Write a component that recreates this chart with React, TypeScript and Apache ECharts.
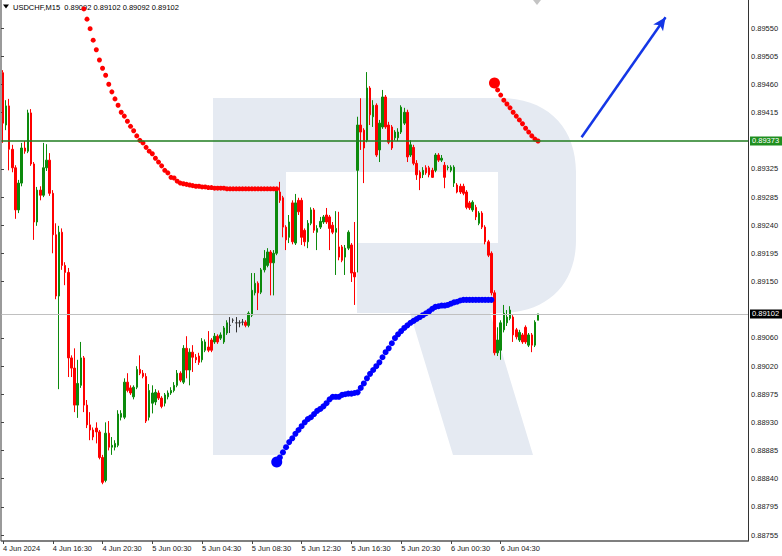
import React, { useEffect, useRef } from "react";
import * as echarts from "echarts";

// ---------- data ----------
const symbolLabel = "USDCHF,M15";
const slotCount = 240; // bar slots shown on the time axis (chart shifted left)
const xTickStep = 16; // one time label every 16 M15 bars (4 hours)
const xTickLabels = [
  "4 Jun 2024", "4 Jun 16:30", "4 Jun 20:30", "5 Jun 00:30", "5 Jun 04:30",
  "5 Jun 08:30", "5 Jun 12:30", "5 Jun 16:30", "5 Jun 20:30", "6 Jun 00:30", "6 Jun 04:30",
];
const yTickLabels = [
  "0.88755", "0.88795", "0.88840", "0.88885", "0.88930", "0.88975", "0.89020", "0.89060",
  "0.89105", "0.89150", "0.89195", "0.89240", "0.89285", "0.89325", "0.89370", "0.89415",
  "0.89460", "0.89505", "0.89550",
];
const yHiddenTicks = ["0.89105", "0.89370"];
const priceMin = 0.88746;
const priceMax = 0.89594;
const resistanceLevel = 0.89373;
const bidLevel = 0.89102;

const opens = [
  0.89480, 0.89398, 0.89428, 0.89360, 0.89331, 0.89265, 0.89307, 0.89362, 0.89357, 0.89417,
  0.89337, 0.89246, 0.89296, 0.89288, 0.89331, 0.89343, 0.89291, 0.89226, 0.89130, 0.89230,
  0.89178, 0.89167, 0.89033, 0.89017, 0.88959, 0.88990, 0.89033, 0.88959, 0.88928, 0.88920,
  0.88923, 0.88917, 0.88877, 0.88841, 0.88915, 0.88893, 0.88893, 0.88896, 0.88940, 0.88940,
  0.88995, 0.88986, 0.88972, 0.88987, 0.89015, 0.89009, 0.89004, 0.88940, 0.88962, 0.88964,
  0.88978, 0.88970, 0.88962, 0.88972, 0.88978, 0.88982, 0.88990, 0.89009, 0.88995, 0.89048,
  0.89014, 0.89042, 0.89034, 0.89036, 0.89030, 0.89045, 0.89050, 0.89061, 0.89058, 0.89067,
  0.89064, 0.89058, 0.89072, 0.89084, 0.89092, 0.89088, 0.89088, 0.89089, 0.89089, 0.89084,
  0.89100, 0.89135, 0.89150, 0.89136, 0.89171, 0.89178, 0.89199, 0.89182, 0.89197, 0.89293,
  0.89284, 0.89238, 0.89222, 0.89276, 0.89213, 0.89280, 0.89280, 0.89233, 0.89215, 0.89244,
  0.89265, 0.89230, 0.89238, 0.89246, 0.89257, 0.89254, 0.89241, 0.89230, 0.89207, 0.89207,
  0.89191, 0.89205, 0.89210, 0.89167, 0.89327, 0.89398, 0.89390, 0.89374, 0.89456, 0.89411,
  0.89429, 0.89359, 0.89395, 0.89442, 0.89398, 0.89395, 0.89378, 0.89378, 0.89387, 0.89401,
  0.89418, 0.89351, 0.89363, 0.89338, 0.89324, 0.89320, 0.89331, 0.89331, 0.89327, 0.89327,
  0.89351, 0.89343, 0.89335, 0.89331, 0.89327, 0.89307, 0.89304, 0.89302, 0.89302, 0.89293,
  0.89276, 0.89265, 0.89269, 0.89244, 0.89260, 0.89238, 0.89215, 0.89197, 0.89135, 0.89041,
  0.89045, 0.89077, 0.89088, 0.89095, 0.89097, 0.89077, 0.89061, 0.89069, 0.89081, 0.89053,
  0.89069, 0.89053, 0.89092,
];
const closes = [
  0.89401, 0.89428, 0.89360, 0.89331, 0.89265, 0.89307, 0.89362, 0.89357, 0.89417, 0.89337,
  0.89246, 0.89296, 0.89288, 0.89331, 0.89343, 0.89291, 0.89226, 0.89130, 0.89230, 0.89178,
  0.89167, 0.89033, 0.89017, 0.88959, 0.88993, 0.89033, 0.88959, 0.88928, 0.88920, 0.88909,
  0.88917, 0.88877, 0.88838, 0.88915, 0.88893, 0.88896, 0.88899, 0.88945, 0.88946, 0.88995,
  0.88982, 0.88978, 0.88987, 0.89015, 0.89009, 0.89004, 0.88934, 0.88982, 0.88978, 0.88979,
  0.88970, 0.88957, 0.88975, 0.88978, 0.88982, 0.88990, 0.89009, 0.88998, 0.89048, 0.89014,
  0.89042, 0.89034, 0.89030, 0.89026, 0.89059, 0.89058, 0.89045, 0.89045, 0.89067, 0.89058,
  0.89069, 0.89080, 0.89088, 0.89084, 0.89092, 0.89088, 0.89088, 0.89089, 0.89084, 0.89103,
  0.89139, 0.89150, 0.89135, 0.89171, 0.89189, 0.89199, 0.89182, 0.89197, 0.89296, 0.89280,
  0.89238, 0.89218, 0.89246, 0.89215, 0.89276, 0.89262, 0.89222, 0.89215, 0.89244, 0.89265,
  0.89233, 0.89236, 0.89247, 0.89254, 0.89246, 0.89236, 0.89230, 0.89236, 0.89191, 0.89186,
  0.89205, 0.89230, 0.89166, 0.89160, 0.89398, 0.89387, 0.89362, 0.89456, 0.89414, 0.89429,
  0.89351, 0.89401, 0.89442, 0.89395, 0.89371, 0.89362, 0.89387, 0.89387, 0.89426, 0.89418,
  0.89348, 0.89367, 0.89338, 0.89320, 0.89315, 0.89327, 0.89323, 0.89320, 0.89316, 0.89351,
  0.89343, 0.89346, 0.89316, 0.89332, 0.89332, 0.89332, 0.89293, 0.89293, 0.89291, 0.89269,
  0.89268, 0.89277, 0.89254, 0.89260, 0.89238, 0.89215, 0.89194, 0.89135, 0.89041, 0.89061,
  0.89088, 0.89103, 0.89097, 0.89108, 0.89069, 0.89066, 0.89073, 0.89058, 0.89058, 0.89069,
  0.89053, 0.89089, 0.89102,
];
const highs = [
  0.89484, 0.89437, 0.89439, 0.89367, 0.89335, 0.89312, 0.89370, 0.89373, 0.89422, 0.89423,
  0.89340, 0.89301, 0.89302, 0.89370, 0.89368, 0.89354, 0.89296, 0.89244, 0.89240, 0.89236,
  0.89183, 0.89174, 0.89037, 0.89048, 0.89030, 0.89058, 0.89036, 0.88967, 0.88948, 0.88924,
  0.88932, 0.88920, 0.88881, 0.88932, 0.88934, 0.88909, 0.88904, 0.88951, 0.88951, 0.89001,
  0.89009, 0.88990, 0.88990, 0.89020, 0.89037, 0.89014, 0.89009, 0.88992, 0.88990, 0.88984,
  0.88982, 0.88973, 0.88978, 0.88982, 0.88987, 0.88995, 0.89014, 0.89012, 0.89053, 0.89067,
  0.89048, 0.89053, 0.89039, 0.89041, 0.89064, 0.89062, 0.89075, 0.89064, 0.89072, 0.89070,
  0.89073, 0.89083, 0.89092, 0.89097, 0.89095, 0.89097, 0.89092, 0.89094, 0.89092, 0.89106,
  0.89166, 0.89166, 0.89153, 0.89174, 0.89202, 0.89205, 0.89202, 0.89202, 0.89298, 0.89309,
  0.89287, 0.89241, 0.89257, 0.89280, 0.89290, 0.89284, 0.89284, 0.89236, 0.89249, 0.89269,
  0.89268, 0.89241, 0.89254, 0.89257, 0.89268, 0.89257, 0.89246, 0.89263, 0.89262, 0.89210,
  0.89210, 0.89233, 0.89213, 0.89246, 0.89411, 0.89440, 0.89393, 0.89481, 0.89459, 0.89437,
  0.89432, 0.89406, 0.89453, 0.89445, 0.89403, 0.89398, 0.89390, 0.89393, 0.89429, 0.89425,
  0.89422, 0.89374, 0.89367, 0.89343, 0.89327, 0.89332, 0.89335, 0.89334, 0.89331, 0.89354,
  0.89354, 0.89351, 0.89340, 0.89335, 0.89335, 0.89335, 0.89307, 0.89306, 0.89306, 0.89296,
  0.89279, 0.89280, 0.89273, 0.89263, 0.89263, 0.89241, 0.89218, 0.89200, 0.89139, 0.89081,
  0.89092, 0.89116, 0.89108, 0.89114, 0.89100, 0.89080, 0.89077, 0.89072, 0.89084, 0.89072,
  0.89072, 0.89092, 0.89102,
];
const lows = [
  0.89370, 0.89390, 0.89327, 0.89324, 0.89251, 0.89260, 0.89302, 0.89353, 0.89354, 0.89334,
  0.89218, 0.89240, 0.89280, 0.89285, 0.89326, 0.89287, 0.89197, 0.89125, 0.88984, 0.89171,
  0.89147, 0.89003, 0.89003, 0.88948, 0.88939, 0.88986, 0.88948, 0.88923, 0.88904, 0.88904,
  0.88899, 0.88874, 0.88835, 0.88838, 0.88888, 0.88881, 0.88888, 0.88893, 0.88935, 0.88937,
  0.88979, 0.88975, 0.88968, 0.88984, 0.89006, 0.89001, 0.88931, 0.88935, 0.88946, 0.88959,
  0.88967, 0.88954, 0.88957, 0.88968, 0.88975, 0.88979, 0.88987, 0.88995, 0.88992, 0.89001,
  0.88990, 0.89011, 0.89025, 0.89022, 0.89026, 0.89042, 0.89042, 0.89042, 0.89055, 0.89055,
  0.89061, 0.89055, 0.89069, 0.89072, 0.89088, 0.89073, 0.89081, 0.89084, 0.89081, 0.89081,
  0.89097, 0.89131, 0.89108, 0.89133, 0.89167, 0.89175, 0.89131, 0.89131, 0.89194, 0.89276,
  0.89222, 0.89202, 0.89213, 0.89211, 0.89210, 0.89257, 0.89210, 0.89208, 0.89205, 0.89241,
  0.89229, 0.89202, 0.89235, 0.89243, 0.89243, 0.89202, 0.89227, 0.89163, 0.89186, 0.89183,
  0.89163, 0.89202, 0.89152, 0.89116, 0.89167, 0.89359, 0.89307, 0.89371, 0.89398, 0.89395,
  0.89348, 0.89340, 0.89392, 0.89392, 0.89368, 0.89359, 0.89374, 0.89373, 0.89384, 0.89398,
  0.89340, 0.89348, 0.89335, 0.89312, 0.89296, 0.89315, 0.89320, 0.89316, 0.89315, 0.89324,
  0.89340, 0.89340, 0.89299, 0.89327, 0.89324, 0.89301, 0.89291, 0.89290, 0.89288, 0.89266,
  0.89265, 0.89262, 0.89249, 0.89241, 0.89235, 0.89211, 0.89191, 0.89131, 0.89037, 0.89036,
  0.89030, 0.89073, 0.89083, 0.89092, 0.89058, 0.89062, 0.89058, 0.89055, 0.89055, 0.89050,
  0.89042, 0.89050, 0.89092,
];

// dotted trend curves (bar index of first dot, then one value per bar)
const redTrendStart = 26;
const redTrend = [
  0.89580, 0.89564, 0.89549, 0.89531, 0.89516, 0.89500, 0.89487, 0.89476, 0.89462, 0.89450,
  0.89439, 0.89429, 0.89418, 0.89412, 0.89404, 0.89396, 0.89389, 0.89381, 0.89374, 0.89370,
  0.89363, 0.89357, 0.89353, 0.89346, 0.89340, 0.89334, 0.89327, 0.89323, 0.89316, 0.89315,
  0.89310, 0.89307, 0.89306, 0.89305, 0.89304, 0.89303, 0.89302, 0.89302, 0.89301, 0.89301,
  0.89300, 0.89300, 0.89299, 0.89299, 0.89299, 0.89299, 0.89298, 0.89298, 0.89298, 0.89298,
  0.89298, 0.89298, 0.89298, 0.89298, 0.89298, 0.89298, 0.89298, 0.89298, 0.89298, 0.89298,
  0.89298, 0.89298, 0.89298,
];
const blueTrendStart = 88;
const blueTrend = [
  0.88870, 0.88877, 0.88885, 0.88893, 0.88901, 0.88907, 0.88914, 0.88920, 0.88926, 0.88932,
  0.88937, 0.88940, 0.88945, 0.88950, 0.88953, 0.88957, 0.88962, 0.88968, 0.88972, 0.88972,
  0.88972, 0.88975, 0.88976, 0.88977, 0.88977, 0.88978, 0.88979, 0.88986, 0.88993, 0.89001,
  0.89008, 0.89014, 0.89020, 0.89026, 0.89034, 0.89042, 0.89048, 0.89056, 0.89064, 0.89070,
  0.89075, 0.89080, 0.89084, 0.89088, 0.89091, 0.89094, 0.89097, 0.89100, 0.89103, 0.89106,
  0.89110, 0.89113, 0.89114, 0.89115, 0.89115, 0.89116, 0.89118, 0.89120, 0.89121, 0.89123,
  0.89124, 0.89124, 0.89124, 0.89124, 0.89124, 0.89124, 0.89124, 0.89124, 0.89124, 0.89124,
];
const redTrend2Start = 158;
const redTrend2 = [
  0.89464, 0.89453, 0.89445, 0.89437, 0.89431, 0.89425, 0.89418, 0.89412, 0.89406, 0.89400,
  0.89393, 0.89387, 0.89381, 0.89376, 0.89373,
];
const arrowFrom = [186, 0.89379];
const arrowTo = [213, 0.89567];

// ---------- watermark logo ----------
const LOGO_D =
  "M213 98 L500 98 C548 98 576 128 576 172 L576 240 C576 284 548 313 500 313 L357 313 L357 243 L498 243 L498 172 L286 172 L286 455 L213 455 Z " +
  "M410 313 L490 313 L533 455 L453 455 Z";
echarts.graphic.registerShape("logo", echarts.graphic.extendPath(LOGO_D, {}));

const FONT = "Liberation Sans";

function trendData(start: number, values: number[]) {
  return values.map((v, i) => [start + i, v]);
}

export default function App() {
  const ref = useRef<HTMLDivElement>(null);

  useEffect(() => {
    document.body.style.margin = "0";
    if (!ref.current) return;
    const chart = echarts.init(ref.current, undefined, { renderer: "svg" });

    const slots = Array.from({ length: slotCount }, (_, i) => String(i));
    const candleData = opens.map((o, i) => [o, closes[i], lows[i], highs[i]]);
    const last = opens.length - 1;
    const header = `${symbolLabel}  ${opens[last].toFixed(5)} ${highs[last].toFixed(5)} ${lows[last].toFixed(5)} ${closes[last].toFixed(5)}`;
    const xShow = (i: number) => i % xTickStep === 0 && i / xTickStep < xTickLabels.length;
    const yShow = (i: number) => !yHiddenTicks.includes(yTickLabels[i]);

    const tagLabel = (bg: string, value: number) => ({
      show: true,
      position: "end",
      distance: 2,
      formatter: value.toFixed(5),
      backgroundColor: bg,
      color: "#ffffff",
      fontFamily: FONT,
      fontSize: 7.5,
      lineHeight: 8,
      padding: [1, 3, 0, 2],
    });

    const dotSeries = (start: number, values: number[], color: string, size: number, bigFirst: boolean) => ({
      type: "line",
      xAxisIndex: 0,
      yAxisIndex: 0,
      data: trendData(start, values),
      symbol: "circle",
      symbolSize: (_v: any, p: any) => (bigFirst && p.dataIndex === 0 ? 11 : size),
      showSymbol: true,
      showAllSymbol: true,
      lineStyle: { opacity: 0, width: 0 },
      itemStyle: { color },
      z: 4,
    });

    const option: any = {
      animation: false,
      backgroundColor: "#ffffff",
      grid: [
        { left: 1, right: 34, top: 0, bottom: 15 },
        { left: 1, right: 34, top: 28, bottom: 21 },
      ],
      xAxis: [
        {
          type: "category",
          gridIndex: 0,
          data: slots,
          boundaryGap: true,
          axisLine: { show: true, lineStyle: { color: "#555555", width: 1.5 } },
          axisTick: {
            show: true,
            alignWithLabel: true,
            length: 3,
            interval: (i: number) => xShow(i),
            lineStyle: { color: "#444444" },
          },
          axisLabel: {
            interval: (i: number) => xShow(i),
            formatter: (_v: string, i: number) => (xShow(i) ? xTickLabels[i / xTickStep] : ""),
            align: "left",
            fontFamily: FONT,
            fontSize: 7.5,
            color: "#222222",
            margin: 3,
            hideOverlap: false,
          },
          splitLine: { show: false },
        },
        { type: "value", gridIndex: 1, show: false, min: 0, max: 1 },
      ],
      yAxis: [
        {
          type: "value",
          gridIndex: 0,
          position: "right",
          min: priceMin,
          max: priceMax,
          axisLine: { show: true, lineStyle: { color: "#333333", width: 1 } },
          axisTick: { show: false },
          axisLabel: { show: false },
          splitLine: { show: false },
        },
        {
          type: "category",
          gridIndex: 1,
          position: "right",
          data: yTickLabels,
          boundaryGap: false,
          axisLine: { show: false },
          axisTick: {
            show: true,
            length: 3,
            interval: (i: number) => yShow(i),
            lineStyle: { color: "#444444" },
          },
          axisLabel: {
            interval: (i: number) => yShow(i),
            fontFamily: FONT,
            fontSize: 7.5,
            color: "#222222",
            margin: 3,
          },
          splitLine: { show: false },
        },
      ],
      graphic: [
        { type: "logo", x: 0, y: 0, z: -10, silent: true, style: { fill: "#e5eaf2" } },
        {
          type: "line",
          silent: true,
          shape: { x1: 1, y1: 0, x2: 1, y2: 541 },
          style: { stroke: "#9a9a9a", lineWidth: 2 },
        },
        {
          type: "polygon",
          silent: true,
          shape: { points: [[533, 0], [541, 0], [537, 5]] },
          style: { fill: "#c4c4c4" },
        },
        {
          type: "polygon",
          silent: true,
          shape: { points: [[3, 4.5], [9, 4.5], [6, 8.5]] },
          style: { fill: "#000000" },
        },
        {
          type: "text",
          silent: true,
          x: 13,
          y: 7,
          style: {
            text: header,
            font: `7.5px "${FONT}"`,
            fill: "#000000",
            verticalAlign: "middle",
          },
        },
      ],
      series: [
        {
          type: "candlestick",
          xAxisIndex: 0,
          yAxisIndex: 0,
          data: candleData,
          barWidth: 2,
          z: 2,
          itemStyle: {
            color: "#0c8a0c",
            color0: "#ff0000",
            borderColor: "#0c8a0c",
            borderColor0: "#ff0000",
            borderColorDoji: "#333333",
            borderWidth: 1,
          },
          markLine: {
            silent: true,
            precision: 5,
            symbol: ["none", "none"],
            animation: false,
            data: [
              {
                yAxis: resistanceLevel,
                lineStyle: { color: "#1f7d1f", width: 1.5, type: "solid" },
                label: tagLabel("#1f8f1f", resistanceLevel),
              },
              {
                yAxis: bidLevel,
                lineStyle: { color: "#c0c0c0", width: 1, type: "solid" },
                label: tagLabel("#000000", bidLevel),
              },
              [
                {
                  coord: arrowFrom,
                  symbol: "none",
                  lineStyle: { color: "#1436e6", width: 2.5, type: "solid" },
                  label: { show: false },
                },
                { coord: arrowTo, symbol: "arrow", symbolSize: [9, 13] },
              ],
            ],
          },
        },
        dotSeries(redTrendStart, redTrend, "#ff0000", 5, false),
        dotSeries(blueTrendStart, blueTrend, "#0000ff", 6, true),
        dotSeries(redTrend2Start, redTrend2, "#ff0000", 5, true),
      ],
    };

    chart.setOption(option);
    return () => chart.dispose();
  }, []);

  return (
    <div
      ref={ref}
      style={{ position: "fixed", left: 0, top: 0, width: 782, height: 556 }}
    />
  );
}
